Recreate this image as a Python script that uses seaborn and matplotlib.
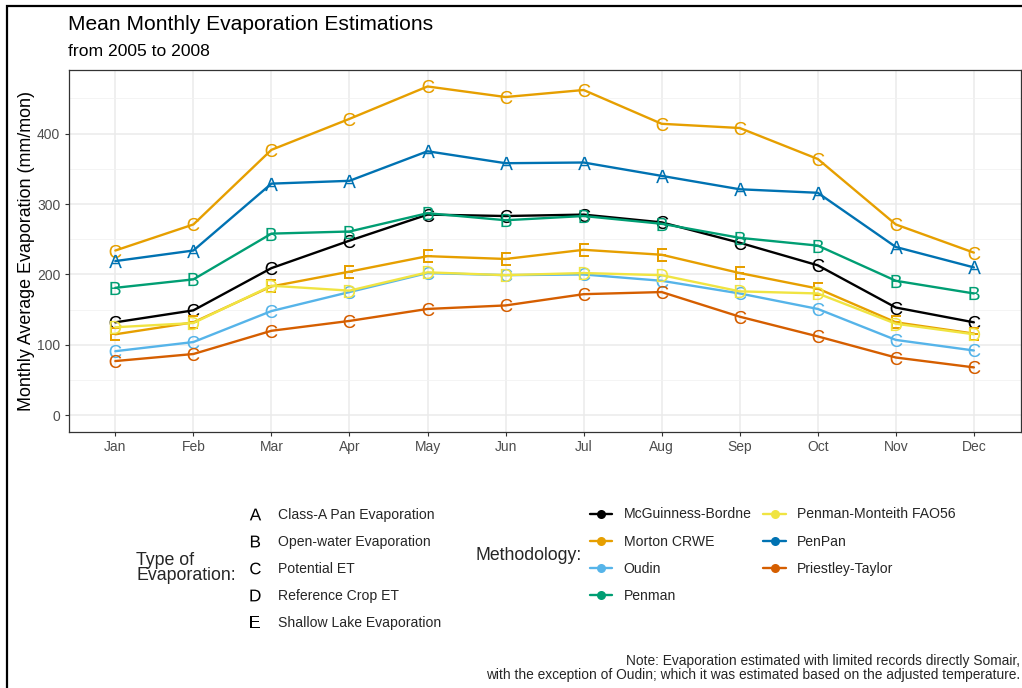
import matplotlib
matplotlib.use("Agg")
import matplotlib.pyplot as plt
import seaborn as sns
import pandas as pd
from matplotlib.lines import Line2D
from matplotlib.patches import Rectangle
from matplotlib.ticker import MultipleLocator

# ---------------- data ----------------
months = ["Jan", "Feb", "Mar", "Apr", "May", "Jun", "Jul", "Aug", "Sep", "Oct", "Nov", "Dec"]

mcguinness = [132, 149, 209, 248, 285, 283, 285, 274, 245, 213, 153, 132]
morton_c = [234, 271, 377, 421, 467, 452, 462, 414, 408, 364, 271, 231]
morton_e = [115, 132, 183, 204, 226, 222, 235, 228, 202, 180, 132, 116]
oudin = [91, 104, 148, 175, 202, 199, 200, 191, 173, 151, 107, 92]
penman = [181, 193, 258, 261, 287, 277, 283, 272, 252, 241, 191, 173]
pm_fao56 = [125, 131, 184, 177, 203, 199, 202, 199, 176, 173, 130, 115]
penpan = [219, 234, 329, 333, 375, 358, 359, 340, 321, 316, 239, 210]
priestley = [77, 87, 120, 134, 151, 156, 172, 175, 140, 112, 82, 68]

methods = ["McGuinness-Bordne", "Morton CRWE", "Oudin", "Penman",
           "Penman-Monteith FAO56", "PenPan", "Priestley-Taylor"]
method_colors = ["#000000", "#E69F00", "#56B4E9", "#009E73",
                 "#F0E442", "#0072B2", "#D55E00"]

types = ["A", "B", "C", "D", "E"]
type_labels = ["Class-A Pan Evaporation", "Open-water Evaporation", "Potential ET",
               "Reference Crop ET", "Shallow Lake Evaporation"]

series = [
    ("McGuinness-Bordne", "C", mcguinness),
    ("Morton CRWE", "C", morton_c),
    ("Morton CRWE", "E", morton_e),
    ("Oudin", "C", oudin),
    ("Penman", "B", penman),
    ("Penman-Monteith FAO56", "D", pm_fao56),
    ("PenPan", "A", penpan),
    ("Priestley-Taylor", "C", priestley),
]

rows = []
for meth, typ, vals in series:
    for m, v in zip(months, vals):
        rows.append({"Method": meth, "Type": typ, "Month": m, "Evap": v})
df = pd.DataFrame(rows)

# ---------------- style ----------------
sns.set_theme(style="white")
plt.rcParams['font.family'] = ['Liberation Sans', 'DejaVu Sans']
plt.rcParams['mathtext.fontset'] = 'custom'
plt.rcParams['mathtext.sf'] = 'Liberation Sans'

W, H = 1022, 688
fig = plt.figure(figsize=(W / 100, H / 100), dpi=100)
fig.patch.set_facecolor("white")

left, right, top, bottom = 68.5, 1020.7, 70, 431.7
ax = fig.add_axes([left / W, 1 - bottom / H, (right - left) / W, (bottom - top) / H])

palette = dict(zip(methods, method_colors))
marker_map = {t: r"$\mathsf{%s}$" % t for t in types}

sns.lineplot(data=df, x="Month", y="Evap", hue="Method", style="Type",
             hue_order=methods, style_order=types, palette=palette,
             markers=marker_map, dashes=False, errorbar=None, sort=False,
             linewidth=1.7, markersize=9.5, markeredgewidth=0,
             legend=False, ax=ax)

ax.set_xlim(-0.6, 11.6)
ax.set_ylim(-23.35, 490.4)
ax.set_yticks([0, 100, 200, 300, 400])
ax.yaxis.set_minor_locator(MultipleLocator(50))
ax.grid(True, which="major", color="#EBEBEB", linewidth=1.1)
ax.grid(True, which="minor", axis="y", color="#F2F2F2", linewidth=0.6)
ax.set_axisbelow(True)
for s in ax.spines.values():
    s.set_color("#333333")
    s.set_linewidth(0.9)
ax.tick_params(axis="both", which="major", length=3, width=0.8, color="#333333",
               labelcolor="#4D4D4D", labelsize=10, pad=3, bottom=True, left=True)
ax.tick_params(axis="y", which="minor", length=0)
ax.set_xlabel("")
ax.set_ylabel("Monthly Average Evaporation (mm/mon)", fontsize=12.9, color="black", labelpad=1)

# titles
fig.text(68 / W, 1 - 25 / H, "Mean Monthly Evaporation Estimations", fontsize=15.1,
         ha="left", va="center", color="black")
fig.text(68 / W, 1 - 51.5 / H, "from 2005 to 2008", fontsize=12.6,
         ha="left", va="center", color="black")

# legend: type of evaporation
type_handles = [Line2D([], [], linestyle="none", marker=r"$\mathsf{%s}$" % t,
                       markersize=8.5, color="black", markeredgewidth=0) for t in types]
leg1 = fig.legend(type_handles, type_labels, loc="upper left",
                  bbox_to_anchor=(249.5 / W, 1 - 507.5 / H), frameon=False,
                  fontsize=10.1, handlelength=0.8, handletextpad=1.2,
                  labelspacing=0.93, borderpad=0, borderaxespad=0)
fig.text(136 / W, 1 - 568 / H, "Type of\nEvaporation:", fontsize=12.8, ha="left",
         va="center", linespacing=0.9)

# legend: methodology
meth_handles = [Line2D([], [], color=c, linewidth=1.7, marker="o", markersize=6.5,
                       markeredgewidth=0) for c in method_colors]
leg2 = fig.legend(meth_handles, methods, loc="upper left", ncol=2,
                  bbox_to_anchor=(590 / W, 1 - 507.5 / H), frameon=False,
                  fontsize=10.1, handlelength=1.6, handletextpad=0.8,
                  labelspacing=0.93, columnspacing=0.85, borderpad=0, borderaxespad=0)
fig.text(475 / W, 1 - 555 / H, "Methodology:", fontsize=12.7, ha="left", va="center")

# note
fig.text(1020 / W, 1 - 668 / H,
         "Note: Evaporation estimated with limited records directly Somair,\n"
         "with the exception of Oudin; which it was estimated based on the adjusted temperature.",
         fontsize=9.9, ha="right", va="center", multialignment="right", linespacing=1.05)

# outer frame
fig.add_artist(Rectangle((7 / W, -0.1), 2.0, 1.1 - 6 / H, transform=fig.transFigure,
                         fill=False, edgecolor="black", linewidth=1.6, zorder=10))

fig.savefig("out.png", dpi=100, facecolor="white")
